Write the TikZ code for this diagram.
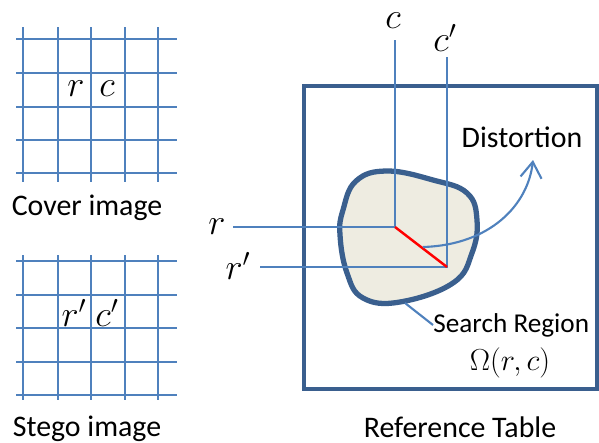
\documentclass[tikz,border=0pt]{standalone}
\usepackage{fontspec}
\setmainfont{Carlito}
\usetikzlibrary{arrows.meta}
\definecolor{gridblue}{HTML}{4F81BD}
\definecolor{darkblue}{HTML}{3A5F8E}
\definecolor{regionfill}{HTML}{EEECE1}
\begin{document}
\begin{tikzpicture}[x=0.02cm, y=-0.02cm,
  every node/.style={inner sep=0pt, font=\fontsize{17}{20}\selectfont},
  mathlabel/.style={font=\fontsize{20}{24}\selectfont},
  gridline/.style={gridblue, line width=1.2pt},
  tableline/.style={darkblue, line width=2.6pt}]
\useasboundingbox (0,0) rectangle (599,443);
% cover image
\foreach \y in {39,73,107,140,173} \draw[gridline] (16,\y) -- (177,\y);
\foreach \x in {23,58,91,125,158} \draw[gridline] (\x,27) -- (\x,182);
\node[mathlabel] (r1) at (76,89) {$r$};
\node[mathlabel] (c1) at (107,89) {$c$};
\node (cover) at (87,208) {Cover image};
% stego image
\foreach \y in {261,295,328,362,395} \draw[gridline] (16,\y) -- (177,\y);
\foreach \x in {23,58,91,125,158} \draw[gridline] (\x,255) -- (\x,400);
\node[mathlabel] (r2) at (74,313) {$r'$};
\node[mathlabel] (c2) at (107,313) {$c'$};
\node (stego) at (87,429) {Stego image};
% reference table
\draw[tableline] (304,86) rectangle (597,389);
\draw[tableline, line width=3pt, fill=regionfill] plot[smooth cycle, tension=0.7] coordinates {
  (343,210) (356,181) (387,171) (433,180) (467,193) (477,220)
  (472,253) (453,283) (400,302) (363,298) (347,273) (340,235)};
\node[mathlabel] (c) at (393,21) {$c$};
\node[mathlabel] (cp) at (445,38) {$c'$};
\node[mathlabel] (r) at (217,227) {$r$};
\node[mathlabel] (rp) at (238,266) {$r'$};
\coordinate (ctop) at (395,40);
\coordinate (cptop) at (447,57);
\coordinate (rleft) at (233,227);
\coordinate (rpleft) at (260,267);
\coordinate (o) at (395,227);
\coordinate (op) at (447,267);
\draw[gridline] (ctop) -- (o) -- (rleft);
\draw[gridline] (cptop) -- (op) -- (rpleft);
\draw[red, line width=1.4pt] (o) -- (op);
% distortion
\node (dist) at (522,137) {Distortion};
\coordinate (dstart) at (423,247);
\coordinate (dend) at (533,160);
\draw[gridline, -{Straight Barb[length=9pt, width=12pt]}] (dstart) .. controls (490,245) and (528,205) .. (dend);
% search region
\node[anchor=west, font=\fontsize{15.5}{18}\selectfont] (sr) at (433,325) {Search Region};
\coordinate (srtip) at (405,303);
\draw[gridline] (srtip) -- (sr.west);
\node (omega) at (510,363) {$\Omega(r,c)$};
\node (ref) at (460,427) {Reference Table};
\end{tikzpicture}
\end{document}
